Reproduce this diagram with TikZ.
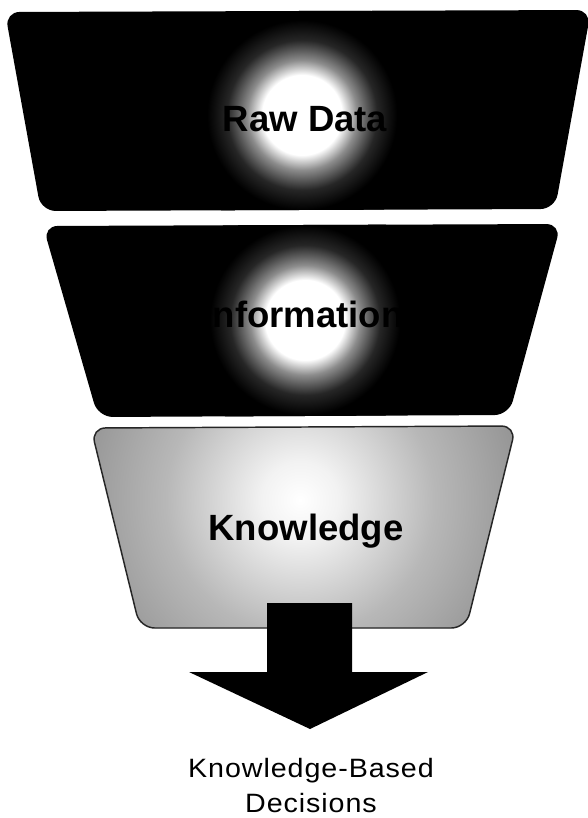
\documentclass[tikz,border=0pt]{standalone}
\usepackage{fontspec}
\setmainfont{Liberation Sans}
\newfontfamily\capfont{Liberation Sans}[LetterSpace=3.5, FakeStretch=1.08]
% radial shadings: TikZ fits the 0--25bp disc to the shaded circle
\pgfdeclareradialshading{darkglow}{\pgfpoint{0bp}{0bp}}{%
  color(0bp)=(white); color(8bp)=(white); color(11bp)=(black!45);
  color(15bp)=(black!85); color(19bp)=(black); color(25bp)=(black);
  color(50bp)=(black)}
\pgfdeclareradialshading{lightglow}{\pgfpoint{0bp}{0bp}}{%
  color(0bp)=(white); color(4bp)=(black!5); color(14bp)=(black!28);
  color(25bp)=(black!44); color(50bp)=(black!44)}
\tikzset{
  tierlabel/.style={font=\fontsize{27.4}{32}\selectfont\bfseries, text=black, inner sep=0pt},
  outcome/.style={font=\capfont\fontsize{19.9}{26.25}\selectfont, align=center, inner sep=0pt},
  tiercorner/.style={rounded corners=11pt},
}
\begin{document}
\begin{tikzpicture}[x=0.75pt, y=-0.75pt]
  \useasboundingbox (0,0) rectangle (588,818);
  \fill[white] (0,0) rectangle (588,818);

  % top tier: raw data
  \begin{scope}
    \clip[tiercorner] (5,12) -- (591,10) -- (555,209) -- (41,211) -- cycle;
    \fill[black] (0,0) rectangle (600,215);
    \shade[shading=darkglow] (302,115) circle (125);
  \end{scope}
  \node[tierlabel, anchor=base] (raw) at (305,131) {Raw Data};

  % middle tier: information
  \begin{scope}
    \clip[tiercorner] (43,226) -- (561,224) -- (509,415) -- (98,417) -- cycle;
    \fill[black] (30,220) rectangle (570,420);
    \shade[shading=darkglow] (305,320) circle (125);
  \end{scope}
  \node[tierlabel, anchor=base] (info) at (303,327) {Information};

  % bottom tier: knowledge
  \begin{scope}
    \clip[tiercorner] (91,428) -- (516,426) -- (466,628) -- (140,628) -- cycle;
    \fill[black!44] (80,420) rectangle (530,635);
    \shade[shading=lightglow] (300,500) circle (240);
  \end{scope}
  \draw[tiercorner, line width=1.1pt, black!85]
    (91,428) -- (516,426) -- (466,628) -- (140,628) -- cycle;
  \node[tierlabel, anchor=base] (know) at (306,540) {Knowledge};

  % block arrow down to the outcome
  \fill[black] (267,603) -- (352,603) -- (352,672) -- (428,672) -- (310,729)
    -- (189,672) -- (267,672) -- cycle;
  \coordinate (tip) at (310,729);

  % multi-line node: its base anchor sits on the last line
  \node[outcome, anchor=base] (decide) at (311,812) {Knowledge-Based\\Decisions};
\end{tikzpicture}
\end{document}
